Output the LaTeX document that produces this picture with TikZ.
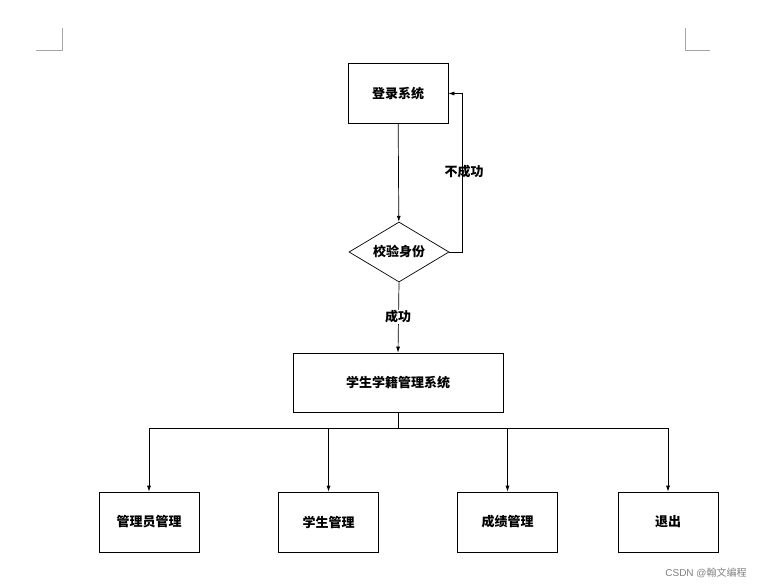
\documentclass[tikz,border=0pt]{standalone}
\usepackage{fontspec}
\setmainfont{Liberation Sans}
\newfontfamily\cjk{Noto Sans CJK SC}
\usetikzlibrary{shapes.geometric,arrows.meta}
\begin{document}
\begin{tikzpicture}[x=1pt,y=-1pt,
  box/.style={draw,line width=0.7pt,minimum width=100pt,minimum height=60pt,font=\cjk\bfseries\fontsize{13}{13}\selectfont},
  arr/.style={-{Latex[length=6pt,width=4pt]},line width=0.7pt},
  lab/.style={font=\cjk\bfseries\fontsize{13}{13}\selectfont}]
\useasboundingbox (0,0) rectangle (770,587);
\draw[gray!70,line width=0.6pt] (62,28) -- (62,50) -- (36,50);
\draw[gray!70,line width=0.6pt] (685,28) -- (685,50) -- (710,50);
\node[box] (login) at (398,93.5) {登录系统};
\node[draw,diamond,aspect=1.67,line width=0.7pt,minimum width=100pt,minimum height=60pt,inner sep=0pt,lab] (check) at (399,252) {校验身份};
\node[box,minimum width=210pt,minimum height=59pt] (sys) at (398,382.5) {学生学籍管理系统};
\node[box] (b1) at (149,522) {管理员管理};
\node[box] (b2) at (328.5,522) {学生管理};
\node[box] (b3) at (507.5,522) {成绩管理};
\node[box] (b4) at (668,522) {退出};
\coordinate (fb1) at (462,252);
\coordinate (fb2) at (462,93.5);
\coordinate (bus) at (398,428);
\draw[arr] (login) -- (check);
\draw[arr] (check.east) -- (fb1) -- (fb2) -- (login.east);
\node[lab] (nok) at (464,172) {不成功};
\draw[arr] (check.south) -- (sys.north);
\node[lab,fill=white,inner sep=1pt] (ok) at (398,317) {成功};
\draw[line width=0.7pt] (sys.south) -- (bus);
\draw[arr] (bus) -| (b1.north);
\draw[arr] (bus) -| (b2.north);
\draw[arr] (bus) -| (b3.north);
\draw[arr] (bus) -| (b4.north);
\node[gray,font=\fontsize{10}{10}\selectfont] (wm) at (706,573) {CSDN @{\cjk 翰文编程}};
\end{tikzpicture}
\end{document}
